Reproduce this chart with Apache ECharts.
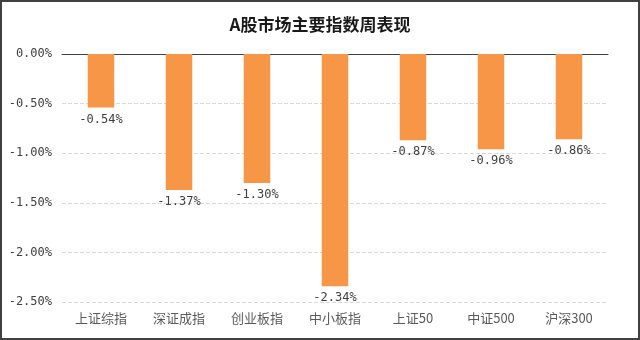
<!DOCTYPE html>
<html><head><meta charset="utf-8">
<script src="https://cdn.jsdelivr.net/npm/echarts@6/dist/echarts.min.js"></script>
<style>html,body{margin:0;padding:0;background:#fff}#c{width:640px;height:340px}</style>
</head><body><div id="c"></div>
<script>
const categories = ['上证综指','深证成指','创业板指','中小板指','上证50','中证500','沪深300'];
const values = [-0.54, -1.37, -1.30, -2.34, -0.87, -0.96, -0.86];
const yTicks = {min: -2.5, max: 0, interval: 0.5};
const title = 'A股市场主要指数周表现';

const chart = echarts.init(document.getElementById('c'), null, {renderer: 'canvas'});
const monoFont = '"DejaVu Sans Mono", "Liberation Mono", monospace';
chart.setOption({
  animation: false,
  backgroundColor: '#fff',
  title: {
    text: title, left: 'center', top: 11,
    textStyle: {fontFamily: '"Noto Sans CJK SC"', fontSize: 17, fontWeight: 'bold', color: '#1a1a1a'}
  },
  grid: {left: 62, right: 32, top: 54, bottom: 38},
  xAxis: [{
    type: 'category', data: categories, position: 'bottom',
    axisLine: {show: false, onZero: false}, axisTick: {show: false},
    axisLabel: {color: '#595959', fontSize: 13, margin: 10, fontFamily: '"Noto Sans CJK SC"'}
  }, {
    type: 'category', data: categories, position: 'top',
    axisLine: {show: true, lineStyle: {color: '#404040', width: 1}},
    axisTick: {show: false}, axisLabel: {show: false}
  }],
  yAxis: {
    type: 'value', min: yTicks.min, max: yTicks.max, interval: yTicks.interval,
    axisLine: {show: false}, axisTick: {show: false},
    axisLabel: {color: '#404040', fontSize: 12, fontFamily: monoFont, margin: 10,
      formatter: v => v.toFixed(2) + '%'},
    splitLine: {show: true, lineStyle: {color: '#d9d9d9', type: 'dashed'}}
  },
  series: [{
    type: 'bar', data: values, barWidth: '34%', xAxisIndex: 0,
    itemStyle: {color: '#F79646'},
    label: {show: true, position: 'bottom', distance: 6, color: '#404040', fontSize: 12,
      fontFamily: monoFont, formatter: p => p.value.toFixed(2) + '%'}
  }],
  graphic: [{
    type: 'rect', shape: {x: 1, y: 1, width: 638, height: 338},
    style: {fill: 'none', stroke: '#404040', lineWidth: 2}, z: 100
  }]
});
</script></body></html>
